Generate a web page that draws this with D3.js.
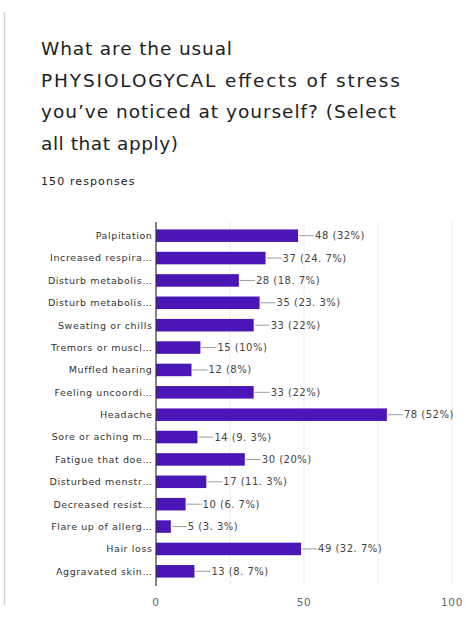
<!DOCTYPE html>
<html>
<head>
<meta charset="utf-8">
<script src="https://cdn.jsdelivr.net/npm/d3@7"></script>
<style>
	body { margin: 0; background: #fff; }
	svg { display: block; }
</style>
</head>
<body>
<svg id="chart" width="466" height="623"></svg>
<script>
	//Data--------------------------------------------------------------------
	var titleLines = [
		'What are the usual',
		'PHYSIOLOGYCAL effects of stress',
		'you\u2019ve noticed at yourself? (Select',
		'all that apply)'
	];
	var responses = '150 responses';
	var categories = [
		'Palpitation', 'Increased respira\u2026', 'Disturb metabolis\u2026',
		'Disturb metabolis\u2026', 'Sweating or chills', 'Tremors or muscl\u2026',
		'Muffled hearing', 'Feeling uncoordi\u2026', 'Headache',
		'Sore or aching m\u2026', 'Fatigue that doe\u2026', 'Disturbed menstr\u2026',
		'Decreased resist\u2026', 'Flare up of allerg\u2026', 'Hair loss',
		'Aggravated skin\u2026'
	];
	var counts = [48, 37, 28, 35, 33, 15, 12, 33, 78, 14, 30, 17, 10, 5, 49, 13];
	var percents = ['32%', '24. 7%', '18. 7%', '23. 3%', '22%', '10%', '8%', '22%',
		'52%', '9. 3%', '20%', '11. 3%', '6. 7%', '3. 3%', '32. 7%', '8. 7%'];
	var tickValues = [0, 50, 100];
	var gridValues = [25, 50, 75, 100];

	var svg = d3.select('#chart');
	var barColor = '#4a16b6';
	var font = '"DejaVu Sans", Verdana, sans-serif';
	//rendered width of each title line (the original face is wider than ours)
	var titleWidths = [191, 359, 355, 137];

	//card edge on the left
	svg.append('line')
		.attr('x1', 4.5).attr('x2', 4.5)
		.attr('y1', 12).attr('y2', 605)
		.style('stroke', '#d4d4d4')
		.style('stroke-width', 1.5);

	//title
	svg.selectAll('.title')
		.data(titleLines)
		.enter()
		.append('text')
		.attr('class', 'title')
		.attr('x', 41)
		.attr('y', function (d, i) { return 55 + i * 31.7; })
		.attr('textLength', function (d, i) { return titleWidths[i]; })
		.attr('lengthAdjust', 'spacing')
		.style('font-family', font)
		.style('font-size', '18.5px')
		.style('fill', '#202124')
		.text(function (d) { return d; });

	svg.append('text')
		.attr('x', 41).attr('y', 185)
		.style('font-family', font)
		.style('font-size', '11px')
		.style('letter-spacing', '1.1px')
		.style('fill', '#202124')
		.text(responses);

	//Scales------------------------------------------------------------------
	var x = d3.scaleLinear().domain([0, 100]).range([156, 452]);
	var y = d3.scaleBand()
		.domain(d3.range(categories.length))
		.range([224.5, 582.5])
		.paddingInner(0.44)
		.paddingOuter(0.22);

	var plot = svg.append('g');

	//grid lines
	plot.selectAll('.grid')
		.data(gridValues)
		.enter()
		.append('line')
		.attr('x1', function (d) { return x(d); })
		.attr('x2', function (d) { return x(d); })
		.attr('y1', 222)
		.attr('y2', 584)
		.style('stroke', '#ececec')
		.style('stroke-width', 1);

	//bars
	plot.selectAll('.bar')
		.data(counts)
		.enter()
		.append('rect')
		.attr('x', x(0))
		.attr('y', function (d, i) { return y(i); })
		.attr('width', function (d) { return x(d) - x(0); })
		.attr('height', y.bandwidth())
		.style('fill', barColor);

	//value connector lines
	plot.selectAll('.conn')
		.data(counts)
		.enter()
		.append('line')
		.attr('x1', function (d) { return x(d) + 1; })
		.attr('x2', function (d) { return x(d) + 16; })
		.attr('y1', function (d, i) { return y(i) + y.bandwidth() / 2; })
		.attr('y2', function (d, i) { return y(i) + y.bandwidth() / 2; })
		.style('stroke', '#9e9e9e')
		.style('stroke-width', 1);

	//value labels
	plot.selectAll('.val')
		.data(counts)
		.enter()
		.append('text')
		.attr('x', function (d) { return x(d) + 17; })
		.attr('y', function (d, i) { return y(i) + y.bandwidth() / 2; })
		.attr('dy', '0.35em')
		.style('font-family', font)
		.style('font-size', '10px')
		.style('letter-spacing', '0.5px')
		.style('fill', '#444')
		.text(function (d, i) { return d + ' (' + percents[i] + ')'; });

	//category labels
	plot.selectAll('.cat')
		.data(categories)
		.enter()
		.append('text')
		.attr('x', 152.5)
		.attr('y', function (d, i) { return y(i) + y.bandwidth() / 2; })
		.attr('dy', '0.35em')
		.attr('text-anchor', 'end')
		.style('font-family', font)
		.style('font-size', '9.5px')
		.style('letter-spacing', '0.6px')
		.style('fill', '#333')
		.text(function (d) { return d; });

	//zero axis line
	plot.append('line')
		.attr('x1', x(0)).attr('x2', x(0))
		.attr('y1', 222).attr('y2', 586)
		.style('stroke', '#333')
		.style('stroke-width', 1.2);

	//x ticks
	plot.selectAll('.tick')
		.data(tickValues)
		.enter()
		.append('text')
		.attr('x', function (d) { return x(d); })
		.attr('y', 606)
		.attr('text-anchor', 'middle')
		.style('font-family', font)
		.style('font-size', '10.5px')
		.style('letter-spacing', '0.6px')
		.style('fill', '#666')
		.text(function (d) { return d; });
</script>
</body>
</html>
